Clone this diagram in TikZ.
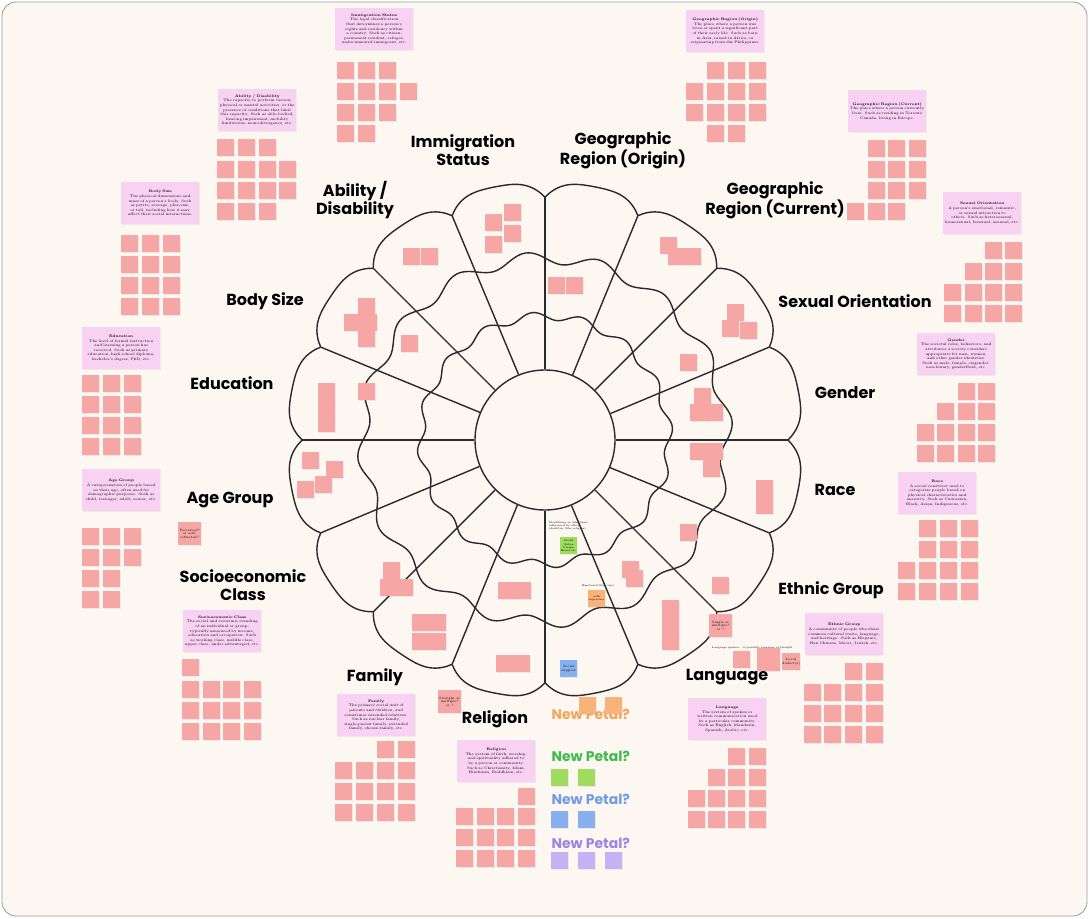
\documentclass[tikz,border=0pt]{standalone}
\usepackage{fontspec}
\usepackage{tikz}
\usetikzlibrary{shadows}
\newfontfamily\petalfont{Poppins}
\newcommand\notefont{\fontsize{3.6}{4.6}\selectfont\hyphenpenalty=10000 \exhyphenpenalty=10000 \relax}
\definecolor{cream}{HTML}{FDF7F1}
\definecolor{framegray}{HTML}{9A9A9A}
\definecolor{inkgray}{HTML}{2A2A2A}
\definecolor{stickypink}{HTML}{F7A6A6}
\definecolor{notepink}{HTML}{F9D2F3}
\definecolor{petalorange}{HTML}{F2A65A}
\definecolor{petalgreen}{HTML}{3DBB4C}
\definecolor{petalblue}{HTML}{6E9DE3}
\definecolor{petalpurple}{HTML}{9C84E3}
\definecolor{stickyorange}{HTML}{F8B27A}
\definecolor{stickygreen}{HTML}{9FDB5E}
\definecolor{stickyblue}{HTML}{86B0EE}
\definecolor{stickypurple}{HTML}{C3B3F5}
\tikzset{
  sticky/.style={fill=stickypink,anchor=north west,minimum size=17pt,inner sep=0pt,
    drop shadow={opacity=0.12,shadow xshift=0.4pt,shadow yshift=-0.8pt}},
  asksticky/.style={sticky,minimum size=23pt,align=center,font=\fontsize{3.2}{3.8}\selectfont},
  notebox/.style={fill=notepink,anchor=north west,minimum width=78pt,minimum height=42pt,
    text width=75pt,align=center,inner sep=1.5pt,font=\notefont,
    drop shadow={opacity=0.1,shadow xshift=0.4pt,shadow yshift=-0.8pt}},
  petallabel/.style={font=\petalfont\bfseries\fontsize{16}{18}\selectfont,align=center,text=black},
  newpetal/.style={font=\petalfont\bfseries\fontsize{14}{15}\selectfont,anchor=west},
  ring/.style={draw=inkgray,line width=1.4pt},
  tinynote/.style={font=\fontsize{2.6}{3.1}\selectfont,align=left,anchor=north west,inner sep=0pt}
}
\begin{document}
\begin{tikzpicture}[x=1pt,y=-1pt]
\useasboundingbox (0,0) rectangle (1089,918);
\fill[cream,draw=framegray,line width=0.8pt,rounded corners=14pt] (2,2) rectangle (1087,916);

% flower
\def\cx{545}\def\cy{440}
\draw[ring] plot[domain=0:360,samples=481,smooth]
  ({\cx+(243+15*(2*abs(sin(8*\x))-abs(sin(8*\x))^2))*cos(\x)},
   {\cy-(243+15*(2*abs(sin(8*\x))-abs(sin(8*\x))^2))*sin(\x)}) -- cycle;
\draw[ring] plot[domain=0:360,samples=361,smooth]
  ({\cx+(182+6*sin(16*\x))*cos(\x)},{\cy-(182+6*sin(16*\x))*sin(\x)}) -- cycle;
\draw[ring] plot[domain=0:360,samples=361,smooth]
  ({\cx+(124+4*sin(16*\x))*cos(\x)},{\cy-(124+4*sin(16*\x))*sin(\x)}) -- cycle;
\node[ring,circle,minimum size=140pt,inner sep=0pt] (hub) at (\cx,\cy) {};
\foreach \a in {0,22.5,...,337.5}
  \draw[ring] (hub.\a) -- ({\cx+243*cos(\a)},{\cy-243*sin(\a)});

% petal labels
\node[petallabel] (immlab) at (463,150) {Immigration\\Status};
\node[petallabel] (geoolab) at (623,150) {Geographic\\Region (Origin)};
\node[petallabel] (geoclab) at (775,200) {Geographic\\Region (Current)};
\node[petallabel] (sexlab) at (855,301) {Sexual Orientation};
\node[petallabel] (genlab) at (845,393) {Gender};
\node[petallabel] (racelab) at (835,490) {Race};
\node[petallabel] (ethlab) at (831,590) {Ethnic Group};
\node[petallabel] (langlab) at (727,677) {Language};
\node[petallabel] (rellab) at (495,719) {Religion};
\node[petallabel] (famlab) at (375,677) {Family};
\node[petallabel] (soclab) at (243,585) {Socioeconomic\\Class};
\node[petallabel] (agelab) at (230,500) {Age Group};
\node[petallabel] (edulab) at (232,383) {Education};
\node[petallabel] (bodylab) at (265,301) {Body Size};
\node[petallabel] (ablab) at (355,200) {Ability /\\Disability};

% description notes
\node[notebox] (immnote) at (335,8) {\textbf{Immigration Status}\\The legal classification that determines a person's rights and residency within a country. Such as citizen, permanent resident, refugee, undocumented immigrant, etc.};
\node[notebox] (geoonote) at (686,10) {\textbf{Geographic Region (Origin)}\\The place where a person was born or spent a significant part of their early life. Such as born in Asia, raised in Africa, or originating from the Philippines.};
\node[notebox] (geocnote) at (848,90) {\textbf{Geographic Region (Current)}\\The place where a person currently lives. Such as residing in Toronto Canada, living in Europe.};
\node[notebox] (sexnote) at (943,192) {\textbf{Sexual Orientation}\\A person's emotional, romantic, or sexual attraction to others. Such as heterosexual, homosexual, bisexual, asexual, etc.};
\node[notebox] (gennote) at (917,333) {\textbf{Gender}\\The societal roles, behaviors, and attributes a society considers appropriate for men, women, and other gender identities. Such as male, female, cisgender, non-binary, genderfluid, etc.};
\node[notebox] (racenote) at (898,472) {\textbf{Race}\\A social construct used to categorize people based on physical characteristics and ancestry. Such as Caucasian, Black, Asian, Indigenous, etc.};
\node[notebox] (ethnote) at (805,613) {\textbf{Ethnic Group}\\A community of people who share common cultural traits, language, and heritage. Such as Hispanic, Han Chinese, Maori, Jewish, etc.};
\node[notebox] (langnote) at (688,698) {\textbf{Language}\\The system of spoken or written communication used by a particular community. Such as English, Mandarin, Spanish, Arabic, etc.};
\node[notebox] (relnote) at (457,740) {\textbf{Religion}\\The system of faith, worship, and spirituality adhered to by a person or community. Such as Christianity, Islam, Hinduism, Buddhism, etc.};
\node[notebox] (famnote) at (337,694) {\textbf{Family}\\The primary social unit of parents and children, and sometimes extended relatives. Such as nuclear family, single-parent family, extended family, chosen family, etc.};
\node[notebox] (socnote) at (183,610) {\textbf{Socioeconomic Class}\\The social and economic standing of an individual or group, typically measured by income, education and occupation. Such as working class, middle class, upper class, under advantaged, etc.};
\node[notebox] (agenote) at (82,469) {\textbf{Age Group}\\A categorization of people based on their age, often used for demographic purposes. Such as child, teenager, adult, senior, etc.};
\node[notebox] (edunote) at (82,327) {\textbf{Education}\\The level of formal instruction and learning a person has received. Such as primary education, high school diploma, bachelor's degree, PhD, etc.};
\node[notebox] (bodynote) at (121,182) {\textbf{Body Size}\\The physical dimensions and mass of a person's body. Such as petite, average, plus-size, or tall, including how it may affect their social interactions.};
\node[notebox] (abnote) at (218,89) {\textbf{Ability / Disability}\\The capacity to perform various physical or mental activities, or the presence of conditions that limit this capacity. Such as able-bodied, hearing impairment, mobility limitations, neurodivergence, etc.};

% sticky grids beside the notes
\foreach \x/\y [count=\i] in {337/62,358/62,379/62,337/83,358/83,379/83,400/83,337/104,358/104,379/104,337/125,358/125}
  \node[sticky] (imm\i) at (\x,\y) {};
\foreach \x/\y [count=\i] in {707/62,728/62,749/62,686/83,707/83,728/83,749/83,686/104,707/104,728/104,749/104,707/125,728/125}
  \node[sticky] (geoo\i) at (\x,\y) {};
\foreach \x/\y [count=\i] in {868/140,888/140,909/140,868/161,888/161,909/161,868/182,888/182,909/182,847/203,868/203,888/203}
  \node[sticky] (geoc\i) at (\x,\y) {};
\foreach \x/\y [count=\i] in {985/242,1005/242,965/263,985/263,1005/263,944/284,965/284,985/284,1005/284,944/305,965/305,985/305,1005/305}
  \node[sticky] (sex\i) at (\x,\y) {};
\foreach \x/\y [count=\i] in {958/383,978/383,937/403,958/403,978/403,917/424,937/424,958/424,978/424,917/445,937/445,958/445,978/445}
  \node[sticky] (gen\i) at (\x,\y) {};
\foreach \x/\y [count=\i] in {919/520,940/520,961/520,919/541,940/541,961/541,898/562,919/562,940/562,961/562,898/583,919/583,940/583,961/583}
  \node[sticky] (race\i) at (\x,\y) {};
\foreach \x/\y [count=\i] in {845/663,866/663,804/684,824/684,845/684,866/684,804/705,824/705,845/705,866/705,804/726,824/726,845/726,866/726}
  \node[sticky] (eth\i) at (\x,\y) {};
\foreach \x/\y [count=\i] in {728/748,749/748,708/769,728/769,749/769,688/790,708/790,728/790,749/790,688/811,708/811,728/811,749/811}
  \node[sticky] (lang\i) at (\x,\y) {};
\foreach \x/\y [count=\i] in {518/788,456/808,477/808,497/808,518/808,456/829,477/829,497/829,518/829,456/850,477/850,497/850,518/850}
  \node[sticky] (rel\i) at (\x,\y) {};
\foreach \x/\y [count=\i] in {377/741,398/741,335/762,356/762,377/762,398/762,335/783,356/783,377/783,398/783,335/804,356/804,377/804,398/804}
  \node[sticky] (fam\i) at (\x,\y) {};
\foreach \x/\y [count=\i] in {182/659,182/681,203/681,223/681,244/681,182/702,203/702,223/702,244/702,182/723,203/723,223/723,244/723}
  \node[sticky] (soc\i) at (\x,\y) {};
\foreach \x/\y [count=\i] in {82/528,103/528,124/528,82/549,103/549,124/549,82/570,103/570,82/591,103/591}
  \node[sticky] (age\i) at (\x,\y) {};
\foreach \x/\y [count=\i] in {82/375,103/375,124/375,82/396,103/396,124/396,82/417,103/417,124/417,82/438,103/438,124/438}
  \node[sticky] (edu\i) at (\x,\y) {};
\foreach \x/\y [count=\i] in {121/235,142/235,163/235,121/256,142/256,163/256,121/277,142/277,163/277,121/298,142/298,163/298}
  \node[sticky] (body\i) at (\x,\y) {};
\foreach \x/\y [count=\i] in {217/139,238/139,259/139,217/161,238/161,259/161,279/161,217/182,238/182,259/182,279/182,217/203,238/203,259/203}
  \node[sticky] (ab\i) at (\x,\y) {};

% stickies placed on the flower
\foreach \x/\y [count=\i] in {485/214,504/204,504/225,485/236,403/248,421/248,548/277,566/277,
  660/237,668/248,684/248,727/304,722/320,740/322,680/354,694/388,690/404,706/404,
  690/443,706/443,703/460,756/480,756/497,680/524,622/561,626/570,712/577,
  662/600,662/617,662/633,498/582,514/582,496/655,513/655,412/614,429/614,412/633,429/633,
  383/562,380/579,396/579,302/452,326/461,315/476,297/481,318/383,318/399,318/415,358/383,
  358/298,344/314,360/314,358/330,401/335}
  \node[sticky] (flw\i) at (\x,\y) {};

% questions and side notes
\node[asksticky] (askage) at (178,522) {Perceived?\\or self-\\reflected?};
\node[asksticky] (askfam) at (438,690) {Straight or\\multiple?\\or ?};
\node[asksticky] (asklang) at (709,614) {Single or\\multiple?\\or ?};
\node[tinynote] (langtxt) at (712,646) {Language spoken -- or possibly language of thought};
\node[asksticky,minimum size=17pt] (lang1) at (733,651) {};
\node[asksticky] (lang2) at (757,648) {};
\node[asksticky,minimum size=17pt] (lang3) at (782,653) {Local\\dialect(s)};
\node[tinynote] (midtxt) at (549,521) {Identifying as (like lines)\\influenced by other\\identities (like religion)};
\node[sticky,fill=stickygreen,align=center,font=\fontsize{2.6}{3.1}\selectfont] (greennote) at (560,537) {Model\\Online\\Unique\\Brand etc.};
\node[tinynote] (emotxt) at (582,584) {Emotional Bias (me)};
\node[sticky,fill=stickyorange,align=center,font=\fontsize{2.6}{3.1}\selectfont] (orangenote) at (588,590) {with\\supervisor};
\node[sticky,fill=stickyblue,align=center,font=\fontsize{3.2}{3.8}\selectfont] (bluenote) at (560,660) {Social\\support};

% new petals
\node[newpetal,text=petalorange] (np1) at (548,714) {New Petal?};
\node[sticky,fill=stickyorange] (np1a) at (579,697) {};
\node[sticky,fill=stickyorange] (np1b) at (605,697) {};
\node[newpetal,text=petalgreen] (np2) at (548,756) {New Petal?};
\node[sticky,fill=stickygreen] (np2a) at (551,769) {};
\node[sticky,fill=stickygreen] (np2b) at (578,769) {};
\node[newpetal,text=petalblue] (np3) at (548,799) {New Petal?};
\node[sticky,fill=stickyblue] (np3a) at (551,811) {};
\node[sticky,fill=stickyblue] (np3b) at (578,811) {};
\node[newpetal,text=petalpurple] (np4) at (548,843) {New Petal?};
\node[sticky,fill=stickypurple] (np4a) at (551,852) {};
\node[sticky,fill=stickypurple] (np4b) at (578,852) {};
\node[sticky,fill=stickypurple] (np4c) at (605,852) {};
\end{tikzpicture}
\end{document}
